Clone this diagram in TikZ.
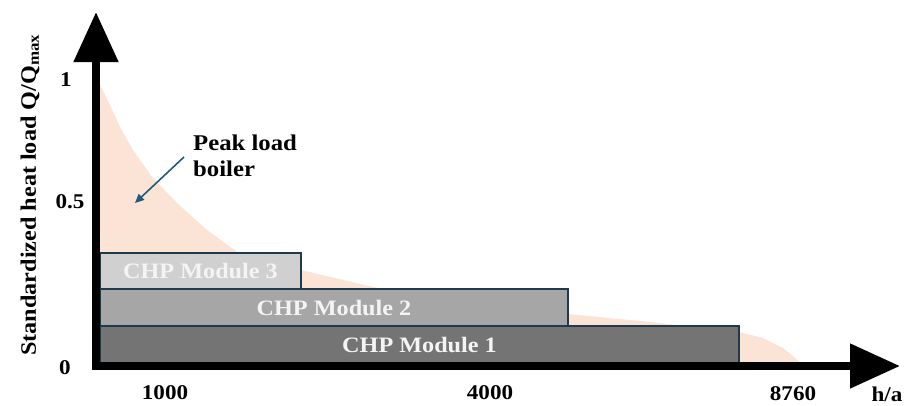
\documentclass[tikz,border=0pt]{standalone}
\usepackage{fontspec}
\setmainfont[FakeStretch=1.1]{Liberation Serif}
\usetikzlibrary{arrows.meta}
\definecolor{peach}{HTML}{FBE3D6}
\definecolor{mone}{HTML}{747474}
\definecolor{mtwo}{HTML}{A6A6A6}
\definecolor{mthree}{HTML}{D0D0D0}
\definecolor{edge}{HTML}{1F3A4B}
\definecolor{pointer}{HTML}{1F5C7A}
\definecolor{mtext}{HTML}{F4F4F4}
\tikzset{
  module/.style={draw=edge, line width=1.4pt, inner sep=0pt, outer sep=0pt,
    text=mtext, font=\bfseries\fontsize{22}{26}\selectfont},
  lbl/.style={font=\bfseries\fontsize{21}{25}\selectfont, inner sep=0pt},
  axisline/.style={line width=8pt, line join=miter,
    {Triangle[length=50pt,width=43pt]}-{Triangle[length=50pt,width=43pt]}},
}
\begin{document}
\begin{tikzpicture}[x=1pt,y=-1pt]
\useasboundingbox (0,0) rectangle (916,405);
% peak load curve
\fill[peach] (100,362) -- (100,85) -- (110,105) -- (120,127) -- (133,150) -- (152,177)
  -- (177,203) -- (207,230) -- (240,254) -- (301,270) -- (373,287) -- (450,300)
  -- (568,314) -- (650,322) -- (739,332) -- (763,338) -- (783,348) -- (800,362) -- cycle;
% modules
\node[module, fill=mone, minimum width=639pt, minimum height=37pt] (m1) at (419.5,344.5) {CHP Module 1};
\node[module, fill=mtwo, minimum width=468pt, minimum height=37pt] (m2) at (334,307.5) {CHP Module 2};
\node[module, fill=mthree, minimum width=201pt, minimum height=36pt] (m3) at (200.5,271) {CHP Module 3};
% axes
\coordinate (O) at (96,366);
\coordinate (ytip) at (96,12);
\coordinate (xtip) at (900,366);
\draw[axisline] (ytip) -- (O) -- (xtip);
% labels
\node[lbl] (y1) at (66,80) {1};
\node[lbl] (y05) at (70,202) {0.5};
\node[lbl] (y0) at (65,368) {0};
\node[lbl] (x1000) at (165,393) {1000};
\node[lbl] (x4000) at (490,393) {4000};
\node[lbl] (x8760) at (793,394) {8760};
\node[lbl] (xunit) at (887,394) {h/a};
\node[lbl, rotate=90, font=\bfseries\fontsize{22}{26}\selectfont] (ylab) at (30,195) {Standardized heat load Q/Q\textsubscript{max}};
\node[lbl, align=left, anchor=north west, font=\bfseries\fontsize{22.5}{26}\selectfont] (peak) at (193,135) {Peak load\\boiler};
\coordinate (pstart) at (184,157);
\coordinate (pend) at (135,203);
\draw[pointer, line width=1.6pt, -{Triangle[length=9pt,width=8pt]}] (pstart) -- (pend);
\end{tikzpicture}
\end{document}
